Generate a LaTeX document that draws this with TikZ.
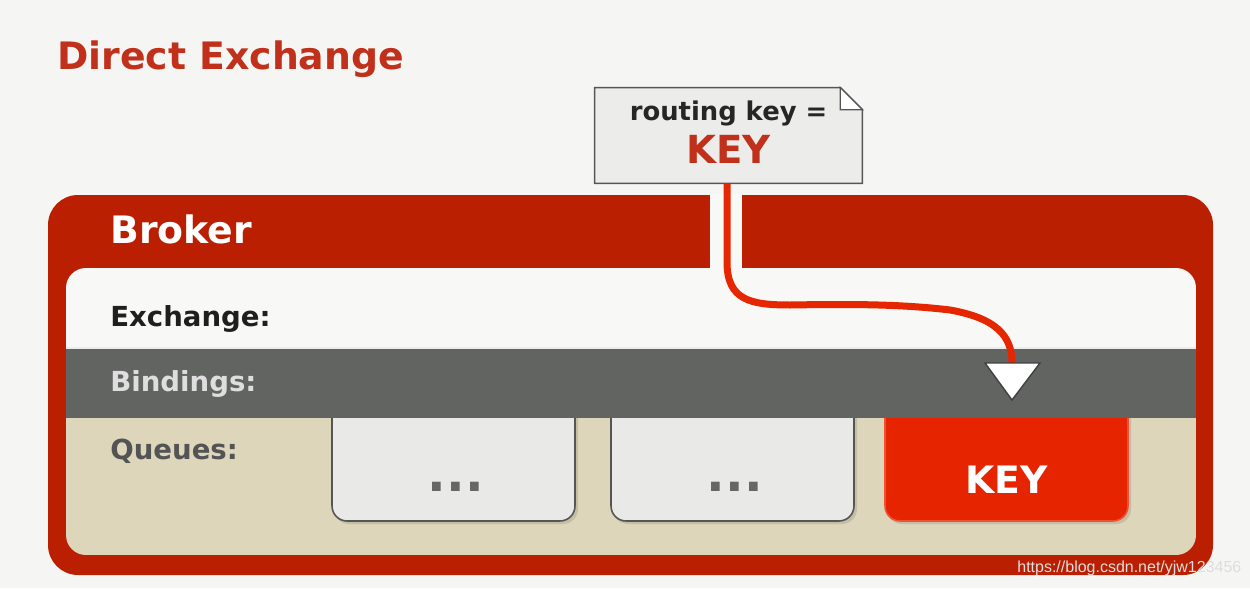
\documentclass[tikz,border=0pt]{standalone}
\usepackage{fontspec}
\setmainfont{DejaVu Sans}
\newfontfamily\wmfont{Liberation Sans}
\definecolor{bg}{RGB}{245,246,244}
\definecolor{brokerred}{RGB}{187,31,2}
\definecolor{titlered}{RGB}{192,48,26}
\definecolor{linered}{RGB}{229,38,0}
\definecolor{inwhite}{RGB}{248,249,247}
\definecolor{bandgray}{RGB}{98,100,98}
\definecolor{beige}{RGB}{221,214,186}
\definecolor{qfill}{RGB}{233,234,232}
\definecolor{qborder}{RGB}{85,85,85}
\definecolor{qred}{RGB}{230,36,0}
\definecolor{qredborder}{RGB}{242,80,50}
\definecolor{notefill}{RGB}{236,237,235}
\definecolor{shadowc}{RGB}{196,190,165}
\definecolor{wmcol}{RGB}{222,222,222}
\begin{document}
\begin{tikzpicture}[x=0.02cm,y=-0.02cm,
  lbl/.style={anchor=base west,inner sep=0pt,font=\bfseries\fontsize{15.7pt}{18pt}\selectfont},
  big/.style={inner sep=0pt,font=\bfseries\fontsize{21.5pt}{24pt}\selectfont},
  dots/.style={inner sep=0pt,font=\bfseries\fontsize{28pt}{29pt}\selectfont,text=black!60},
  qbox/.style={rounded corners=0.3cm,minimum width=4.86cm,minimum height=2.52cm,inner sep=0pt,line width=0.9pt},
  redline/.style={draw=linered,line width=0.14cm}]
\path[use as bounding box,fill=bg] (0,0) rectangle (1250,588);
% title
\node[big,anchor=base west,text=titlered] (title) at (57,70) {Direct Exchange};
% broker outer
\fill[brokerred,rounded corners=0.6cm] (48,195) rectangle (1213,575);
\begin{scope}
  \clip[rounded corners=0.4cm] (66,268) rectangle (1196,555);
  \fill[inwhite] (66,268) rectangle (1196,348);
  \fill[beige] (66,418) rectangle (1196,555);
  \fill[shadowc,rounded corners=0.3cm] (334,395) rectangle (578,524);
  \fill[shadowc,rounded corners=0.3cm] (613,395) rectangle (857,524);
  \fill[shadowc,rounded corners=0.3cm] (887,395) rectangle (1131,524);
  \node[qbox,draw=qborder,fill=qfill] (q1) at (453.5,458) {};
  \node[qbox,draw=qborder,fill=qfill] (q2) at (732.5,458) {};
  \node[qbox,draw=qredborder,fill=qred] (q3) at (1006.5,458) {};
  \fill[bandgray] (66,348) rectangle (1196,418);
  \draw[white!85!gray,line width=0.6pt] (66,348) -- (1196,348);
\end{scope}
% gap in the red band
\fill[inwhite] (710,194) rectangle (742,269);
% labels
\node[big,anchor=base west,text=white] (broker) at (110,243) {Broker};
\node[lbl,text=black!88] (exch) at (110,326) {Exchange:};
\node[lbl,text=black!13] (bind) at (110,391) {Bindings:};
\node[lbl,text=black!67] (queues) at (110,459) {Queues:};
\node[dots] (d1) at (q1.center) [xshift=0.05cm,yshift=-0.58cm] {...};
\node[dots] (d2) at (q2.center) [xshift=0.05cm,yshift=-0.58cm] {...};
\node[big,text=white] (k3) at (q3.center) [yshift=-0.44cm] {KEY};
% note
\node[minimum width=5.34cm,minimum height=1.9cm,inner sep=0pt] (note) at (728.5,135.5) {};
\draw[qborder,fill=notefill,line width=0.9pt]
  (note.north west) -- ([xshift=-0.44cm]note.north east) -- ([yshift=-0.44cm]note.north east)
  -- (note.south east) -- (note.south west) -- cycle;
\draw[qborder,fill=white,line width=0.7pt]
  ([xshift=-0.44cm]note.north east) -- ([xshift=-0.44cm,yshift=-0.44cm]note.north east) -- ([yshift=-0.44cm]note.north east) -- cycle;
\node[inner sep=0pt,font=\bfseries\fontsize{14.7pt}{17pt}\selectfont,text=black!85] (rk) at (728.5,113) {routing key =};
\node[big,font=\bfseries\fontsize{22pt}{24pt}\selectfont,text=titlered] (key) at (728.5,149) {KEY};
% connector
\coordinate (tri) at (1012,363);
\draw[redline] (note.south) ++(-1.5,0) -- (727,262) .. controls (727,300) and (750,305) .. (790,305)
  .. controls (850,304) and (900,304) .. (950,310) .. controls (995,318) and (1012,335) .. (tri);
\draw[fill=white,draw=black!75,line width=0.8pt,line join=miter] (985,363) -- (1040,363) -- (1012,400) -- cycle;
% watermark
\node[anchor=west,inner sep=0pt,font=\wmfont\fontsize{9.1pt}{10pt}\selectfont,text=wmcol] (wm) at (1017,568) {https://blog.csdn.net/yjw123456};
\end{tikzpicture}
\end{document}
